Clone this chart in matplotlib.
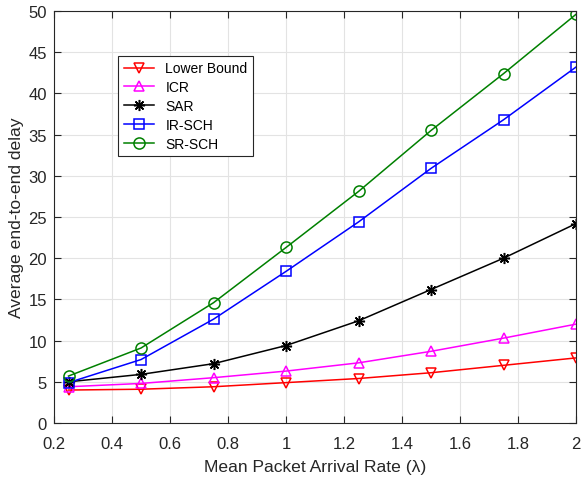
import matplotlib
matplotlib.use("Agg")
import matplotlib.pyplot as plt

plt.rcParams['font.family'] = ['Liberation Sans', 'DejaVu Sans']

rate = [0.25, 0.5, 0.75, 1.0, 1.25, 1.5, 1.75, 2.0]
lower_bound = [4.0, 4.1, 4.4, 4.9, 5.4, 6.1, 7.0, 7.9]
icr = [4.4, 4.8, 5.5, 6.3, 7.3, 8.7, 10.3, 12.0]
sar = [5.0, 5.9, 7.2, 9.4, 12.4, 16.2, 20.0, 24.2]
ir_sch = [4.9, 7.7, 12.6, 18.4, 24.4, 30.9, 36.8, 43.2]
sr_sch = [5.7, 9.1, 14.6, 21.3, 28.1, 35.5, 42.4, 49.6]

fig = plt.figure(figsize=(5.82, 4.81), dpi=100)
ax = fig.add_axes([0.0928, 0.1185, 0.8969, 0.8565])

lw = 1.1
ax.plot(rate, lower_bound, color='red', marker='v', ms=7.5, mfc='none', mew=1.1, lw=lw, label='Lower Bound')
ax.plot(rate, icr, color='magenta', marker='^', ms=7.5, mfc='none', mew=1.1, lw=lw, label='ICR')
ax.plot(rate, sar, color='black', marker=(8, 2, 0), ms=8, mew=1.1, lw=lw, label='SAR')
ax.plot(rate, ir_sch, color='blue', marker='s', ms=6.5, mfc='none', mew=1.1, lw=lw, label='IR-SCH')
ax.plot(rate, sr_sch, color='green', marker='o', ms=8, mfc='none', mew=1.1, lw=lw, label='SR-SCH')

ax.set_xlim(0.2, 2)
ax.set_ylim(0, 50)
ax.set_xticks([0.2, 0.4, 0.6, 0.8, 1, 1.2, 1.4, 1.6, 1.8, 2])
ax.set_xticklabels(['0.2', '0.4', '0.6', '0.8', '1', '1.2', '1.4', '1.6', '1.8', '2'])
ax.set_yticks(range(0, 51, 5))
ax.grid(True, color='#e3e3e3', lw=0.8)
ax.set_axisbelow(True)
ax.tick_params(direction='in', top=True, right=True, labelsize=12, colors='#262626', length=5)
ax.tick_params(axis='x', pad=9)
ax.tick_params(axis='y', pad=5)
for s in ax.spines.values():
    s.set_color('#262626')
    s.set_linewidth(0.8)

ax.set_xlabel('Mean Packet Arrival Rate (λ)', fontsize=12.6, color='#262626', labelpad=6)
ax.set_ylabel('Average end-to-end delay', fontsize=12.6, color='#262626', labelpad=3)

leg = ax.legend(loc='upper left', bbox_to_anchor=(0.123, 0.891), fontsize=10,
                fancybox=False, framealpha=1, edgecolor='#262626',
                handlelength=2.2, borderaxespad=0, labelspacing=0.35)
leg.get_frame().set_linewidth(0.8)

fig.savefig('out.png', dpi=100)
